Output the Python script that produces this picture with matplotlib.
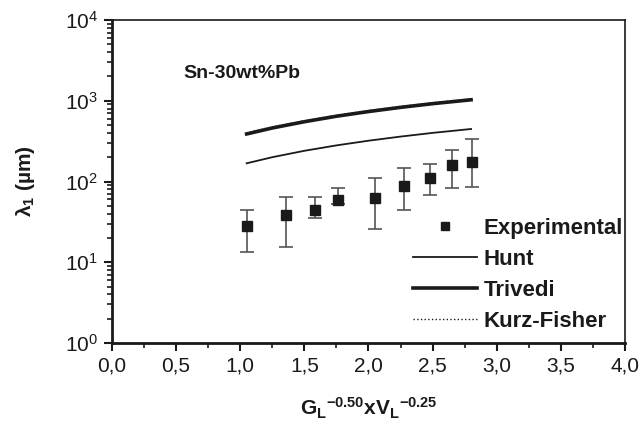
import numpy as np
import matplotlib
matplotlib.use('Agg')
import matplotlib.pyplot as plt
from matplotlib.ticker import FixedLocator, LogLocator, NullFormatter

# experimental spacing with min/max bars
x_exp = [1.05, 1.36, 1.58, 1.76, 2.05, 2.28, 2.48, 2.65, 2.81]
lam_exp = [28, 38, 44, 59, 63, 88, 111, 159, 173]
lam_min = [13.5, 15.3, 35, 52, 25.6, 45, 69, 84, 86]
lam_max = [44, 64, 65, 82, 109, 148, 163, 245, 333]

# theoretical models
x_model = [1.05, 1.25, 1.5, 1.75, 2.0, 2.25, 2.5, 2.8]
hunt = [168, 200, 240, 280, 320, 360, 400, 447]
trivedi = [388, 460, 550, 643, 735, 828, 920, 1028]
kurz_fisher = [400, 475, 565, 660, 755, 850, 945, 1055]

x_ticks = [0.0, 0.5, 1.0, 1.5, 2.0, 2.5, 3.0, 3.5, 4.0]
x_ticklabels = ['0,0', '0,5', '1,0', '1,5', '2,0', '2,5', '3,0', '3,5', '4,0']


def main():
    plt.rcParams['font.family'] = ['Liberation Sans', 'DejaVu Sans']
    plt.rcParams['mathtext.fontset'] = 'custom'
    plt.rcParams['mathtext.rm'] = 'Liberation Sans'
    plt.rcParams['mathtext.bf'] = 'Liberation Sans:bold'
    plt.rcParams['mathtext.it'] = 'Liberation Sans:italic'

    fig = plt.figure(figsize=(6.41, 4.30), dpi=100)
    ax = fig.add_axes([0.1747, 0.2023, 0.8003, 0.7512])

    lam = np.array(lam_exp)
    yerr = [lam - np.array(lam_min), np.array(lam_max) - lam]
    ax.errorbar(x_exp, lam, yerr=yerr, fmt='none', ecolor='#555555',
                elinewidth=1.2, capsize=5, capthick=1.2)
    ax.plot(x_exp, lam, 's', color='#1a1a1a', markersize=6.5,
            label='Experimental')
    ax.plot(x_model, hunt, '-', color='#1a1a1a', lw=1.3, label='Hunt')
    ax.plot(x_model, trivedi, '-', color='#1a1a1a', lw=2.6, label='Trivedi')
    ax.plot(x_model, kurz_fisher, ':', color='#1a1a1a', lw=1.0,
            label='Kurz-Fisher')

    ax.set_yscale('log')
    ax.set_xlim(0, 4)
    ax.set_ylim(1, 1e4)

    ax.xaxis.set_major_locator(FixedLocator(x_ticks))
    ax.set_xticklabels(x_ticklabels)
    ax.xaxis.set_minor_locator(FixedLocator(np.arange(0.25, 4.0, 0.5)))
    ax.yaxis.set_major_locator(LogLocator(base=10, numticks=10))
    ax.yaxis.set_minor_locator(LogLocator(base=10, subs=np.arange(2, 10),
                                          numticks=20))
    ax.yaxis.set_minor_formatter(NullFormatter())

    ax.tick_params(which='major', direction='out', length=6, width=1.5,
                   labelsize=15, colors='#1a1a1a', pad=4)
    ax.tick_params(which='minor', direction='out', length=3.5, width=1.2,
                   colors='#1a1a1a')
    for side in ['left', 'bottom']:
        ax.spines[side].set_linewidth(2.0)
    for side in ['top', 'right']:
        ax.spines[side].set_linewidth(1.2)
    for sp in ax.spines.values():
        sp.set_color('#1a1a1a')

    ax.set_xlabel(r'$\mathbf{G_L}^{\mathbf{-0.50}}\mathbf{xV_L}^{\mathbf{-0.25}}$',
                  fontsize=15, color='#1a1a1a', labelpad=14)
    ax.set_ylabel('λ$_\\mathbf{1}$ (µm)', fontsize=15, fontweight='bold',
                  color='#1a1a1a', labelpad=20)

    ax.text(0.556, 2200, 'Sn-30wt%Pb', fontsize=14, fontweight='bold',
            color='#1a1a1a', va='center')

    leg = ax.legend(loc='lower right', bbox_to_anchor=(1.0, 0.028),
                    frameon=False, handlelength=2.85, handletextpad=0.3,
                    labelspacing=0.45, borderaxespad=0.0, borderpad=0.1,
                    markerscale=0.85,
                    prop={'weight': 'bold', 'size': 16})
    for t in leg.get_texts():
        t.set_color('#1a1a1a')

    plt.savefig('out.png', dpi=100)


if __name__ == '__main__':
    main()
